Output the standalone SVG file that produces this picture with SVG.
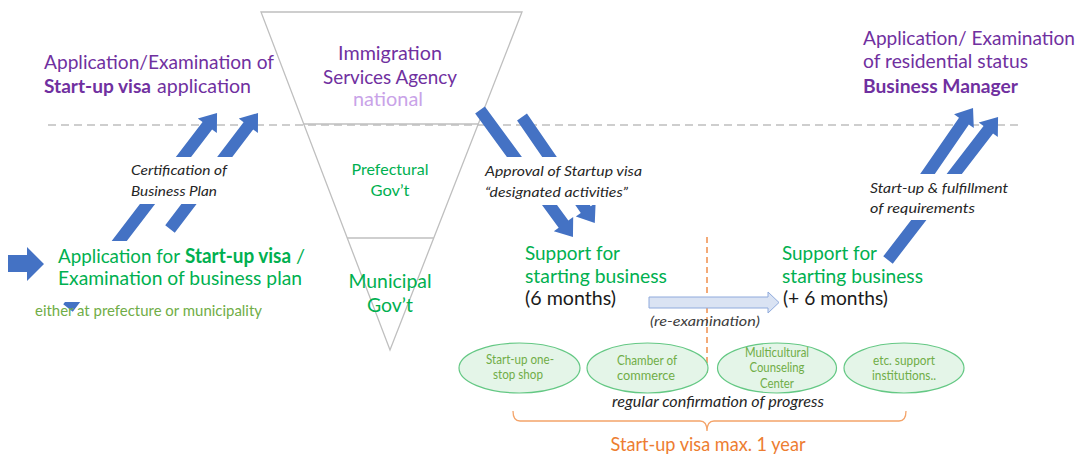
<svg xmlns="http://www.w3.org/2000/svg" width="1089" height="457" viewBox="0 0 1089 457">
<style>
text{font-family:Lato,"Open Sans","Liberation Sans",sans-serif}
.pur{fill:#7030a0;font-size:19px}
.grn{fill:#00b050;font-size:20px}
.blk{fill:#1a1a1a;font-size:20px}
.it{fill:#262626;font-size:14px;font-style:italic}
.ol{fill:#70ad47;font-size:12.5px}
.b{font-weight:bold}
.arr{fill:#4472c4}
.bg{fill:#ffffff}
.ov{fill:#e4f5e8;stroke:#64c884;stroke-width:1.2}
.tri{fill:none;stroke:#bfbfbf;stroke-width:1.3}
</style>
<rect width="1089" height="457" fill="#ffffff"/>
<g id="guides">
<line x1="48" y1="125" x2="1020" y2="125" stroke="#bfbfbf" stroke-width="1.3" stroke-dasharray="8 5"/>
<line x1="707" y1="237" x2="707" y2="376" stroke="#ed7d31" stroke-width="1.3" stroke-dasharray="6 4"/>
</g>
<g id="pyramid">
<polygon class="tri" points="261,12 522,12 390,350"/>
<line class="tri" x1="303" y1="124" x2="479" y2="124"/>
<line class="tri" x1="347" y1="238" x2="434" y2="238"/>
<text x="390" y="60" class="pur" text-anchor="middle" font-size="18" textLength="104" lengthAdjust="spacingAndGlyphs">Immigration</text>
<text x="390" y="84" class="pur" text-anchor="middle" font-size="18" textLength="134" lengthAdjust="spacingAndGlyphs">Services Agency</text>
<text x="388" y="106" class="pur" text-anchor="middle" font-size="18" style="fill:#c9a3e8" textLength="70" lengthAdjust="spacingAndGlyphs">national</text>
<text x="390" y="175" class="grn" text-anchor="middle" style="font-size:16px" textLength="77" lengthAdjust="spacingAndGlyphs">Prefectural</text>
<text x="390" y="196" class="grn" text-anchor="middle" style="font-size:16px" textLength="39" lengthAdjust="spacingAndGlyphs">Gov’t</text>
<text x="390" y="288" class="grn" text-anchor="middle" style="font-size:19px" textLength="83" lengthAdjust="spacingAndGlyphs">Municipal</text>
<text x="390" y="312" class="grn" text-anchor="middle" style="font-size:19px" textLength="46" lengthAdjust="spacingAndGlyphs">Gov’t</text>
</g>
<g id="connectors">
<polygon class="arr" points="8,255 27,255 27,247 44,264 27,281 27,272 8,272"/>
<polygon class="arr" transform="translate(68,308) rotate(-52.6)" points="0,-6 229.4,-6 229.4,-12 245.4,0 229.4,12 229.4,6 0,6"/>
<polygon class="arr" transform="translate(170,229) rotate(-52.8)" points="0,-6 129.6,-6 129.6,-12 145.6,0 129.6,12 129.6,6 0,6"/>
<polygon class="arr" transform="translate(480,110) rotate(53.8)" points="0,-6 141.4,-6 141.4,-12 157.4,0 141.4,12 141.4,6 0,6"/>
<polygon class="arr" transform="translate(522,117) rotate(55.5)" points="0,-6 112.5,-6 112.5,-12 128.5,0 112.5,12 112.5,6 0,6"/>
<polygon class="arr" transform="translate(913,195) rotate(-55.4)" points="0,-6 89.7,-6 89.7,-12 105.7,0 89.7,12 89.7,6 0,6"/>
<polygon class="arr" transform="translate(888,260) rotate(-52.4)" points="0,-6 164.4,-6 164.4,-12 180.4,0 164.4,12 164.4,6 0,6"/>
<polygon points="649,297 768,297 768,292 779,302.5 768,313 768,308 649,308" fill="#dae3f3" stroke="#8faadc" stroke-width="1"/>
</g>
<g id="visa-application">
<text x="44" y="69" class="pur" textLength="230" lengthAdjust="spacingAndGlyphs">Application/Examination of</text>
<text x="44" y="93" class="pur b" textLength="107" lengthAdjust="spacingAndGlyphs">Start-up visa</text>
<text x="157" y="93" class="pur" textLength="94" lengthAdjust="spacingAndGlyphs">application</text>
</g>
<g id="business-manager">
<text x="863" y="45" class="pur" textLength="212" lengthAdjust="spacingAndGlyphs">Application/ Examination</text>
<text x="863" y="68" class="pur" textLength="165" lengthAdjust="spacingAndGlyphs">of residential status</text>
<text x="863" y="93" class="pur b" textLength="155" lengthAdjust="spacingAndGlyphs">Business Manager</text>
</g>
<g id="certification">
<rect class="bg" x="126" y="157" width="108" height="47"/>
<text x="131" y="175" class="it" textLength="96" lengthAdjust="spacingAndGlyphs">Certification of</text>
<text x="131" y="196" class="it" textLength="86" lengthAdjust="spacingAndGlyphs">Business Plan</text>
</g>
<g id="application">
<rect class="bg" x="54" y="241" width="254" height="61"/>
<text x="58" y="263" class="grn" textLength="122" lengthAdjust="spacingAndGlyphs">Application for</text>
<text x="185" y="263" class="grn b" textLength="106" lengthAdjust="spacingAndGlyphs">Start-up visa</text>
<text x="296" y="263" class="grn">/</text>
<text x="58" y="285" class="grn" textLength="244" lengthAdjust="spacingAndGlyphs">Examination of business plan</text>
<text x="35" y="316" class="ol" style="font-size:15px" textLength="227" lengthAdjust="spacingAndGlyphs">either  at prefecture or municipality</text>
</g>
<g id="approval">
<rect class="bg" x="480" y="157" width="166" height="48"/>
<text x="485" y="176" class="it" textLength="157" lengthAdjust="spacingAndGlyphs">Approval of Startup visa</text>
<text x="485" y="197" class="it" textLength="143" lengthAdjust="spacingAndGlyphs">“designated activities”</text>
</g>
<g id="fulfillment">
<rect class="bg" x="866" y="174" width="146" height="46"/>
<text x="870" y="193" class="it" textLength="138" lengthAdjust="spacingAndGlyphs">Start-up &amp; fulfillment</text>
<text x="870" y="213" class="it" textLength="105" lengthAdjust="spacingAndGlyphs">of requirements</text>
</g>
<g id="support-1">
<text x="525" y="260" class="grn" textLength="95" lengthAdjust="spacingAndGlyphs">Support for</text>
<text x="525" y="283" class="grn" textLength="142" lengthAdjust="spacingAndGlyphs">starting business</text>
<text x="525" y="305" class="blk" textLength="91" lengthAdjust="spacingAndGlyphs">(6 months)</text>
</g>
<g id="support-2">
<text x="782" y="260" class="grn" textLength="95" lengthAdjust="spacingAndGlyphs">Support for</text>
<text x="782" y="283" class="grn" textLength="141" lengthAdjust="spacingAndGlyphs">starting business</text>
<text x="783" y="305" class="blk" textLength="105" lengthAdjust="spacingAndGlyphs">(+ 6 months)</text>
</g>
<g id="re-examination">
<text x="650" y="326" class="it" style="fill:#404040" textLength="110" lengthAdjust="spacingAndGlyphs">(re-examination)</text>
</g>
<g id="one-stop-shop">
<ellipse class="ov" cx="519.5" cy="368" rx="60.5" ry="25"/>
<text x="520" y="364" class="ol" text-anchor="middle" textLength="68" lengthAdjust="spacingAndGlyphs">Start-up one-</text>
<text x="518" y="379" class="ol" text-anchor="middle" textLength="50" lengthAdjust="spacingAndGlyphs">stop shop</text>
</g>
<g id="chamber">
<ellipse class="ov" cx="647.5" cy="368" rx="60.5" ry="25"/>
<text x="647" y="365" class="ol" text-anchor="middle" textLength="60" lengthAdjust="spacingAndGlyphs">Chamber of</text>
<text x="646" y="380" class="ol" text-anchor="middle" textLength="58" lengthAdjust="spacingAndGlyphs">commerce</text>
</g>
<g id="multicultural">
<ellipse class="ov" cx="777" cy="368" rx="59.5" ry="25"/>
<text x="777" y="357" class="ol" text-anchor="middle" textLength="64" lengthAdjust="spacingAndGlyphs">Multicultural</text>
<text x="777" y="372" class="ol" text-anchor="middle" textLength="55" lengthAdjust="spacingAndGlyphs">Counseling</text>
<text x="777" y="388" class="ol" text-anchor="middle" textLength="34" lengthAdjust="spacingAndGlyphs">Center</text>
</g>
<g id="etc-support">
<ellipse class="ov" cx="904" cy="368" rx="60" ry="25"/>
<text x="904" y="365" class="ol" text-anchor="middle" textLength="62" lengthAdjust="spacingAndGlyphs">etc. support</text>
<text x="904" y="380" class="ol" text-anchor="middle" textLength="64" lengthAdjust="spacingAndGlyphs">institutions..</text>
</g>
<g id="progress">
<text x="718" y="407" class="it" text-anchor="middle" style="font-size:15px" textLength="212" lengthAdjust="spacingAndGlyphs">regular confirmation of progress</text>
<path d="M513,411 Q513,421 520,421 L700,421 Q707,421 707,431 Q707,421 714,421 L899,421 Q906,421 906,411" fill="none" stroke="#f4a46a" stroke-width="1.3"/>
<text x="708" y="451" text-anchor="middle" style="fill:#ed7d31;font-size:19px" textLength="195" lengthAdjust="spacingAndGlyphs">Start-up visa max. 1 year</text>
</g>
</svg>
